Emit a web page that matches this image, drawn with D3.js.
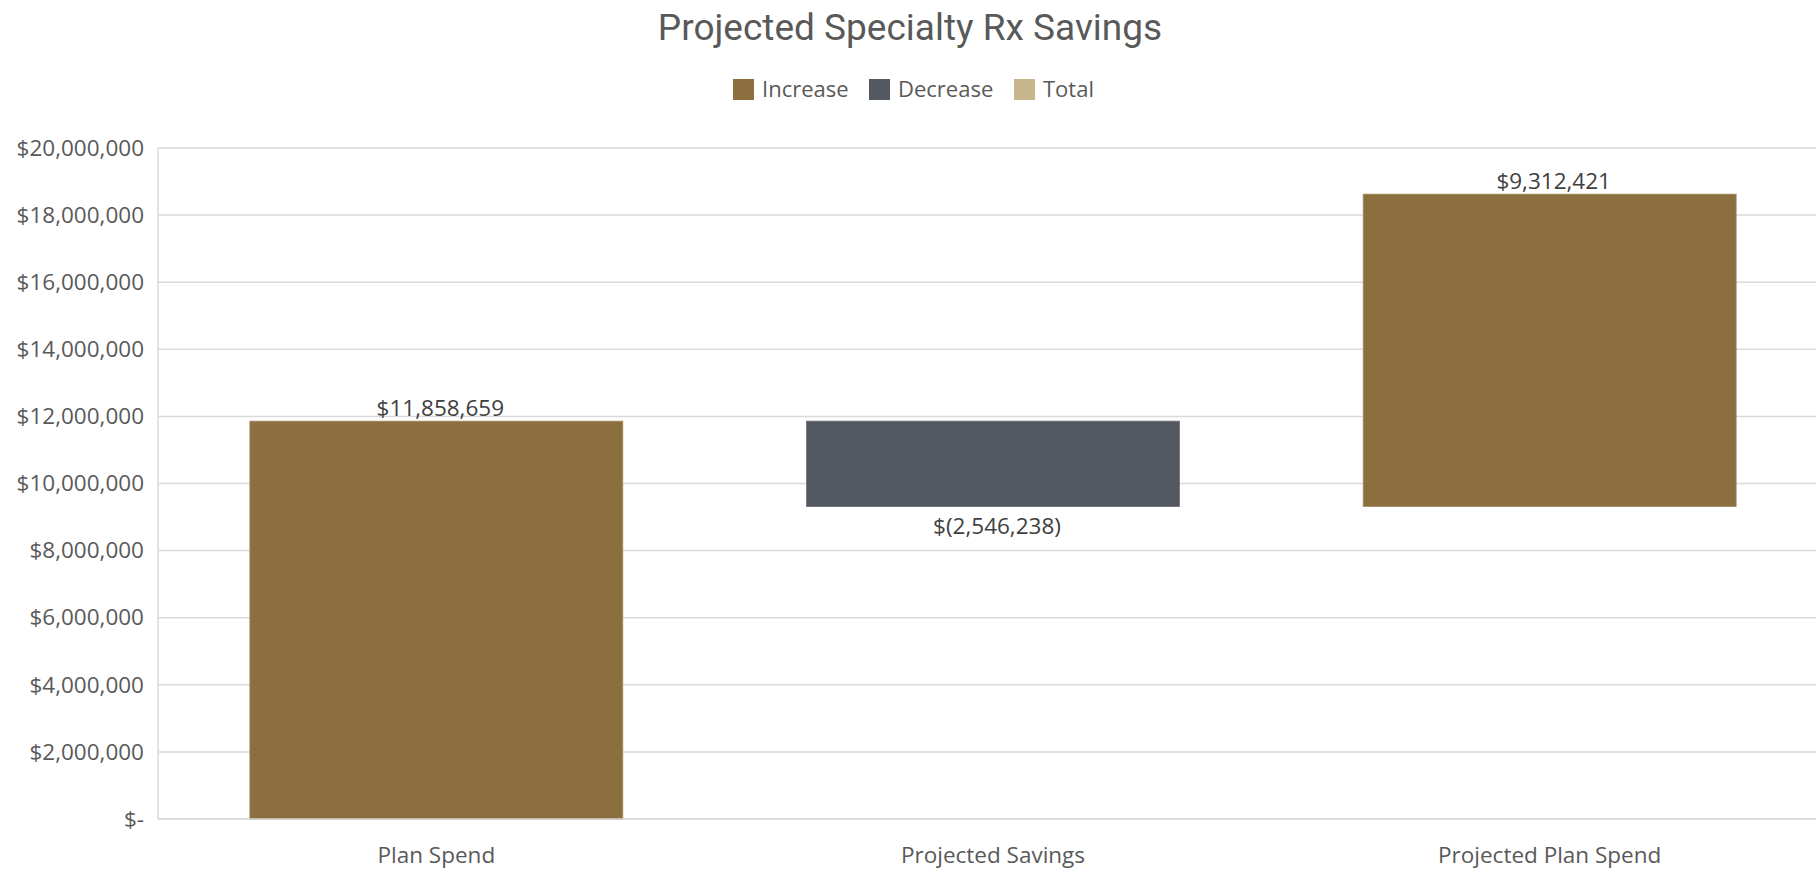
<!DOCTYPE html>
<html>
<head>
<meta charset="utf-8">
<script src="https://cdn.jsdelivr.net/npm/d3@7"></script>
<style>
  html, body { margin: 0; padding: 0; background: #ffffff; overflow: hidden; }
  svg { display: block; }
</style>
</head>
<body>
<svg id="chart" width="1816" height="872"></svg>
<script>
// ---- Data ----
const categories = ["Plan Spend", "Projected Savings", "Projected Plan Spend"];
const values = [11858659, -2546238, 9312421];
const barTypes = ["Increase", "Decrease", "Increase"];
const legendItems = ["Increase", "Decrease", "Total"];
const yTicks = [0, 2000000, 4000000, 6000000, 8000000, 10000000, 12000000, 14000000, 16000000, 18000000, 20000000];
const chartTitle = "Projected Specialty Rx Savings";

// ---- Styles ----
const colors = { Increase: "#8c6f3f", Decrease: "#545860", Total: "#c8b78c" };
const font = "'Open Sans', 'Noto Sans', sans-serif";

const svg = d3.select("#chart");
const W = 1816, H = 872;
const plot = { left: 158, right: 1828, top: 148, bottom: 819 };

const x = d3.scaleBand().domain(categories).range([plot.left, plot.right])
  .paddingInner(0.33).paddingOuter(0.165);
const y = d3.scaleLinear().domain([0, 20000000]).range([plot.bottom, plot.top]);

// waterfall: first bar from 0, following bars from the running total
let running = 0;
const bars = categories.map((c, i) => {
  let start, end;
  if (i === 0) { start = 0; end = values[i]; }
  else { start = running; end = running + values[i]; }
  running = (i === 0) ? values[i] : (barTypes[i] === "Decrease" ? running + values[i] : running);
  return { cat: c, value: values[i], type: barTypes[i], start, end };
});

const fmtNum = d3.format(",");
const fmtMoney = v => v < 0 ? "$(" + fmtNum(-v) + ")" : "$" + fmtNum(v);
const fmtTick = v => v === 0 ? "$-" : "$" + fmtNum(v);

// Title
svg.append("text")
  .attr("x", 910).attr("y", 40)
  .attr("text-anchor", "middle")
  .attr("font-family", "Roboto, 'Open Sans', sans-serif")
  .attr("font-size", 37)
  .attr("fill", "#595959")
  .text(chartTitle);

// Legend
const legendX = [733, 869, 1014];
const lg = svg.append("g");
legendItems.forEach((name, i) => {
  lg.append("rect")
    .attr("x", legendX[i]).attr("y", 79)
    .attr("width", 21).attr("height", 21)
    .attr("fill", colors[name]);
  lg.append("text")
    .attr("x", legendX[i] + 29).attr("y", 97)
    .attr("font-family", font).attr("font-size", 22)
    .attr("fill", "#595959")
    .text(name);
});

// Gridlines
const grid = svg.append("g");
grid.selectAll("line.grid").data(yTicks.filter(d => d !== 0)).enter().append("line")
  .attr("class", "grid")
  .attr("x1", plot.left).attr("x2", W)
  .attr("y1", d => y(d)).attr("y2", d => y(d))
  .attr("stroke", "#dadada").attr("stroke-width", 1.5);

// Left axis line
svg.append("line")
  .attr("x1", plot.left).attr("x2", plot.left)
  .attr("y1", plot.top).attr("y2", plot.bottom)
  .attr("stroke", "#dadada").attr("stroke-width", 1.5);

// Y tick labels
const yAxis = d3.axisLeft(y).tickValues(yTicks).tickFormat(fmtTick).tickSize(0).tickPadding(14);
const yg = svg.append("g").attr("transform", `translate(${plot.left},0)`).call(yAxis);
yg.select(".domain").remove();
yg.selectAll("text")
  .attr("font-family", font).attr("font-size", 22.5)
  .attr("fill", "#595959");

// Bars
svg.append("g").selectAll("rect").data(bars).enter().append("rect")
  .attr("x", d => x(d.cat))
  .attr("width", x.bandwidth())
  .attr("y", d => y(Math.max(d.start, d.end)))
  .attr("height", d => Math.abs(y(d.start) - y(d.end)))
  .attr("fill", d => colors[d.type])
  .attr("stroke", d => d.type === "Increase" ? "#a58d62" : "#6a6e75")
  .attr("stroke-width", 0.8);

// Baseline
svg.append("line")
  .attr("x1", plot.left).attr("x2", W)
  .attr("y1", y(0)).attr("y2", y(0))
  .attr("stroke", "#d0d0d0").attr("stroke-width", 1.5);

// Value labels
svg.append("g").selectAll("text").data(bars).enter().append("text")
  .attr("x", d => x(d.cat) + x.bandwidth() / 2 + 4)
  .attr("y", d => d.type === "Decrease" ? y(Math.min(d.start, d.end)) + 27 : y(Math.max(d.start, d.end)) - 5)
  .attr("text-anchor", "middle")
  .attr("font-family", font).attr("font-size", 22.5)
  .attr("fill", "#404040")
  .text(d => fmtMoney(d.value));

// X axis labels
const xAxis = d3.axisBottom(x).tickSize(0).tickPadding(28);
const xg = svg.append("g").attr("transform", `translate(0,${plot.bottom})`).call(xAxis);
xg.select(".domain").remove();
xg.selectAll("text")
  .attr("font-family", font).attr("font-size", 22.5)
  .attr("fill", "#595959");
</script>
</body>
</html>
